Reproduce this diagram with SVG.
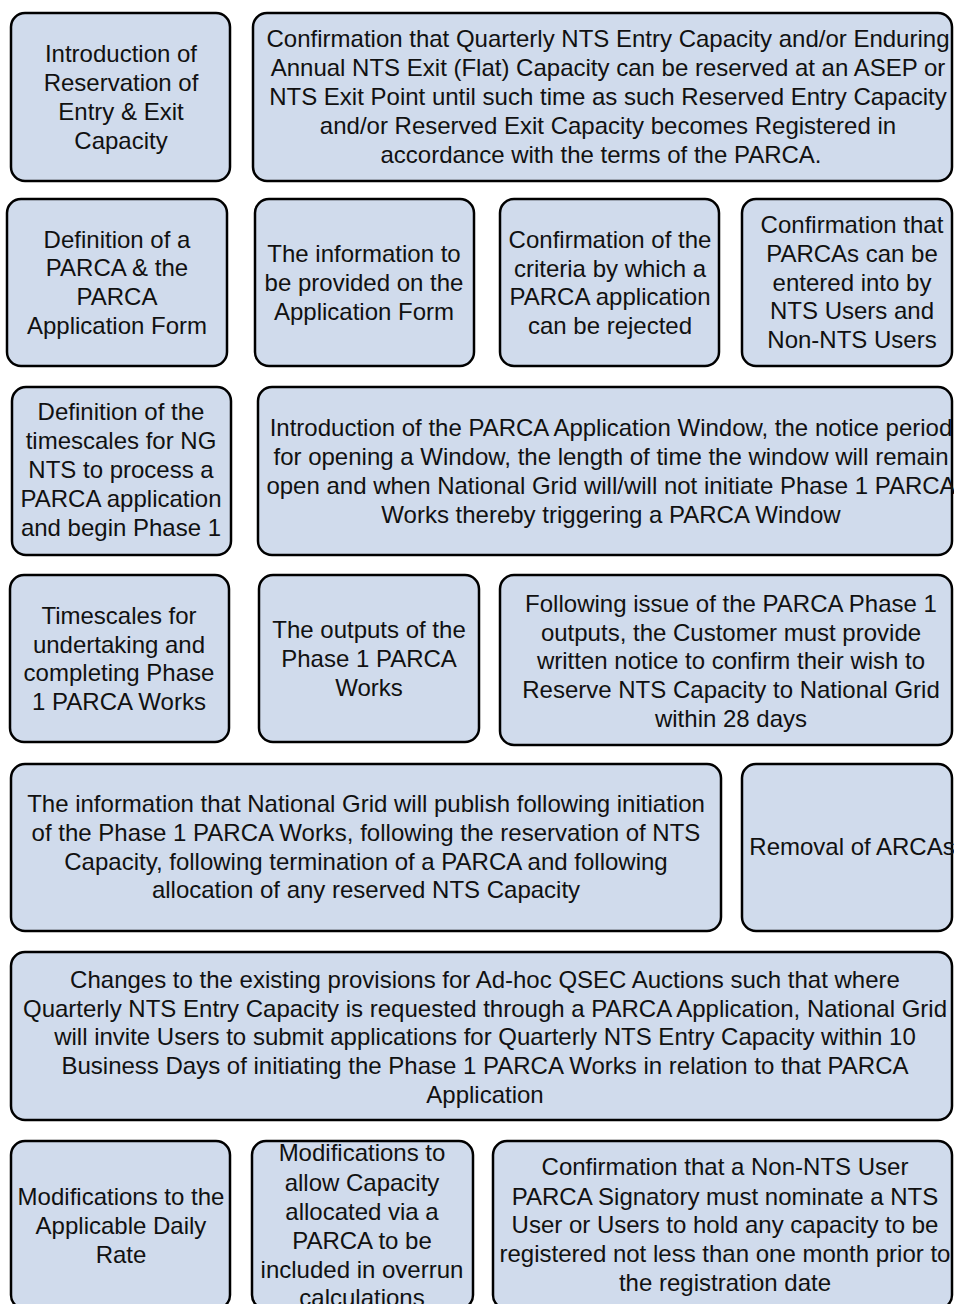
<svg xmlns="http://www.w3.org/2000/svg" width="954" height="1304" viewBox="0 0 954 1304">
<style>
.b{fill:#d0dbec;stroke:#000;stroke-width:2.5}
text{font-family:"Liberation Sans",Arial,sans-serif;font-size:24px;fill:#111;text-anchor:middle}
</style>
<rect width="954" height="1304" fill="#fff"/>
<g id="n1"><rect class="b" x="11" y="13" width="219" height="168" rx="14"/>
<text x="121"><tspan x="121" y="62">Introduction of</tspan><tspan x="121" y="91">Reservation of</tspan><tspan x="121" y="120">Entry &amp; Exit</tspan><tspan x="121" y="149">Capacity</tspan></text></g>
<g id="n2"><rect class="b" x="253" y="13" width="699" height="168" rx="14"/>
<text x="607"><tspan x="608" y="47">Confirmation that Quarterly NTS Entry Capacity and/or Enduring</tspan><tspan x="608" y="76">Annual NTS Exit (Flat) Capacity can be reserved at an ASEP or</tspan><tspan x="608" y="105">NTS Exit Point until such time as such Reserved Entry Capacity</tspan><tspan x="608" y="134">and/or Reserved Exit Capacity becomes Registered in</tspan><tspan x="601" y="163">accordance with the terms of the PARCA.</tspan></text></g>
<g id="n3"><rect class="b" x="7" y="199" width="220" height="167" rx="14"/>
<text><tspan x="117" y="248">Definition of a</tspan><tspan x="117" y="276">PARCA &amp; the</tspan><tspan x="117" y="305">PARCA</tspan><tspan x="117" y="334">Application Form</tspan></text></g>
<g id="n4"><rect class="b" x="255" y="199" width="219" height="167" rx="14"/>
<text><tspan x="364" y="262">The information to</tspan><tspan x="364" y="291">be provided on the</tspan><tspan x="364" y="320">Application Form</tspan></text></g>
<g id="n5"><rect class="b" x="500" y="199" width="219" height="167" rx="14"/>
<text><tspan x="610" y="248">Confirmation of the</tspan><tspan x="610" y="277">criteria by which a</tspan><tspan x="610" y="305">PARCA application</tspan><tspan x="610" y="334">can be rejected</tspan></text></g>
<g id="n6"><rect class="b" x="742" y="199" width="210" height="167" rx="14"/>
<text><tspan x="852" y="233">Confirmation that</tspan><tspan x="852" y="262">PARCAs can be</tspan><tspan x="852" y="291">entered into by</tspan><tspan x="852" y="319">NTS Users and</tspan><tspan x="852" y="348">Non-NTS Users</tspan></text></g>
<g id="n7"><rect class="b" x="12" y="387" width="219" height="168" rx="14"/>
<text><tspan x="121" y="420">Definition of the</tspan><tspan x="121" y="449">timescales for NG</tspan><tspan x="121" y="478">NTS to process a</tspan><tspan x="121" y="507">PARCA application</tspan><tspan x="121" y="536">and begin Phase 1</tspan></text></g>
<g id="n8"><rect class="b" x="258" y="387" width="694" height="168" rx="14"/>
<text><tspan x="611" y="436">Introduction of the PARCA Application Window, the notice period</tspan><tspan x="611" y="465">for opening a Window,  the length of time the window will remain</tspan><tspan x="611" y="494">open and when National Grid will/will not initiate Phase 1 PARCA</tspan><tspan x="611" y="523">Works thereby triggering a PARCA Window</tspan></text></g>
<g id="n9"><rect class="b" x="10" y="575" width="219" height="167" rx="14"/>
<text><tspan x="119" y="624">Timescales for</tspan><tspan x="119" y="653">undertaking and</tspan><tspan x="119" y="681">completing Phase</tspan><tspan x="119" y="710">1 PARCA Works</tspan></text></g>
<g id="n10"><rect class="b" x="259" y="575" width="220" height="167" rx="14"/>
<text><tspan x="369" y="638">The outputs of the</tspan><tspan x="369" y="667">Phase 1 PARCA</tspan><tspan x="369" y="696">Works</tspan></text></g>
<g id="n11"><rect class="b" x="500" y="575" width="452" height="170" rx="14"/>
<text><tspan x="731" y="612">Following issue of the PARCA Phase 1</tspan><tspan x="731" y="641">outputs, the Customer must provide</tspan><tspan x="731" y="669">written notice to confirm their wish to</tspan><tspan x="731" y="698">Reserve NTS Capacity to National Grid</tspan><tspan x="731" y="727">within 28 days</tspan></text></g>
<g id="n12"><rect class="b" x="11" y="764" width="710" height="167" rx="14"/>
<text><tspan x="366" y="812">The information that National Grid will publish following initiation</tspan><tspan x="366" y="841">of the Phase 1 PARCA Works, following the reservation of NTS</tspan><tspan x="366" y="870">Capacity, following termination of a PARCA and following</tspan><tspan x="366" y="898">allocation of any reserved NTS Capacity</tspan></text></g>
<g id="n13"><rect class="b" x="742" y="764" width="210" height="167" rx="14"/>
<text><tspan x="852" y="855">Removal of ARCAs</tspan></text></g>
<g id="n14"><rect class="b" x="11" y="952" width="941" height="168" rx="14"/>
<text><tspan x="485" y="988">Changes to the existing provisions for Ad-hoc QSEC Auctions such that where</tspan><tspan x="485" y="1017">Quarterly NTS Entry Capacity is requested through a PARCA Application, National Grid</tspan><tspan x="485" y="1045">will invite Users to submit applications for Quarterly NTS Entry Capacity within 10</tspan><tspan x="485" y="1074">Business Days of initiating the Phase 1 PARCA Works in relation to that PARCA</tspan><tspan x="485" y="1103">Application</tspan></text></g>
<g id="n15"><rect class="b" x="11" y="1141" width="219" height="168" rx="14"/>
<text><tspan x="121" y="1205">Modifications to the</tspan><tspan x="121" y="1234">Applicable Daily</tspan><tspan x="121" y="1263">Rate</tspan></text></g>
<g id="n16"><rect class="b" x="252" y="1141" width="221" height="168" rx="14"/>
<text><tspan x="362" y="1161">Modifications to</tspan><tspan x="362" y="1191">allow Capacity</tspan><tspan x="362" y="1220">allocated via a</tspan><tspan x="362" y="1249">PARCA to be</tspan><tspan x="362" y="1278">included in overrun</tspan><tspan x="362" y="1306">calculations</tspan></text></g>
<g id="n17"><rect class="b" x="493" y="1141" width="459" height="168" rx="14"/>
<text><tspan x="725" y="1175">Confirmation that a Non-NTS User</tspan><tspan x="725" y="1205">PARCA Signatory must nominate a NTS</tspan><tspan x="725" y="1233">User or Users to hold any capacity to be</tspan><tspan x="725" y="1262">registered not less than one month prior to</tspan><tspan x="725" y="1291">the registration date</tspan></text></g>
<g id="connectors"/>
</svg>
